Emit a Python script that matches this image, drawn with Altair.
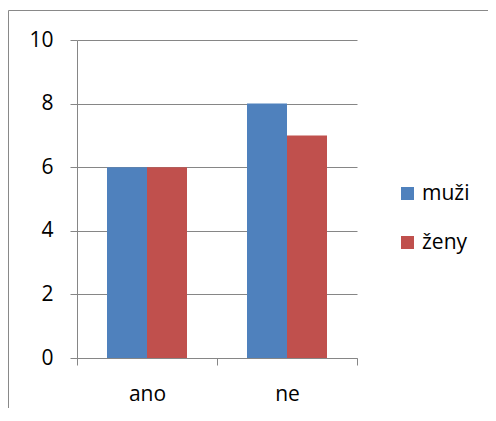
import altair as alt
import pandas as pd

categories = ["ano", "ne"]
series = ["muži", "ženy"]
muzi = [6, 8]
zeny = [6, 7]
y_ticks = [0, 2, 4, 6, 8, 10]
colors = ["#4F81BD", "#C0504D"]

rows = []
for i, c in enumerate(categories):
    rows.append({"kat": c, "pohlavi": series[0], "hodnota": muzi[i]})
    rows.append({"kat": c, "pohlavi": series[1], "hodnota": zeny[i]})
df = pd.DataFrame(rows)

FONT = "Open Sans"
GRID = "#868686"
W, H = 280, 318

bars = alt.Chart(df).mark_bar(size=40).encode(
    x=alt.X("kat:N", sort=categories, title=None,
            scale=alt.Scale(paddingInner=0, paddingOuter=0),
            axis=alt.Axis(labelAngle=0, tickBand="extent", tickSize=7,
                          tickColor=GRID, domainColor=GRID, labelFontSize=21,
                          labelFont=FONT, labelColor="#000000", labelPadding=18,
                          grid=False)),
    xOffset=alt.XOffset("pohlavi:N", sort=series,
                        scale=alt.Scale(paddingInner=0, paddingOuter=0.75)),
    y=alt.Y("hodnota:Q", title=None,
            scale=alt.Scale(domain=[0, 10], nice=False),
            axis=alt.Axis(values=y_ticks, tickSize=7, tickColor=GRID,
                          domainColor=GRID, gridColor=GRID, gridOpacity=1,
                          labelFontSize=21, labelFont=FONT, labelColor="#000000",
                          labelPadding=17)),
    color=alt.Color("pohlavi:N", sort=series, title=None,
                    scale=alt.Scale(domain=series, range=colors),
                    legend=alt.Legend(orient="none", legendX=320, legendY=143,
                                      symbolType="square", symbolSize=169,
                                      symbolStrokeWidth=0, labelFontSize=21,
                                      labelFont=FONT, labelColor="#000000",
                                      labelOffset=4, rowPadding=27)),
)

border = alt.Chart(alt.Data(values=[{}])).mark_rect(
    fill=None, stroke="#898989", strokeWidth=1
).encode(
    x=alt.value(-68.5), x2=alt.value(W + 300),
    y=alt.value(-29.5), y2=alt.value(H + 300),
)

chart = alt.layer(border, bars).properties(
    width=W, height=H,
    autosize=alt.AutoSizeParams(type="none"),
    padding={"left": 69, "top": 32, "right": 131, "bottom": 50},
    background="#ffffff",
).configure_view(strokeWidth=0)

chart.save("out.html", embed_options={"renderer": "svg", "actions": False})
